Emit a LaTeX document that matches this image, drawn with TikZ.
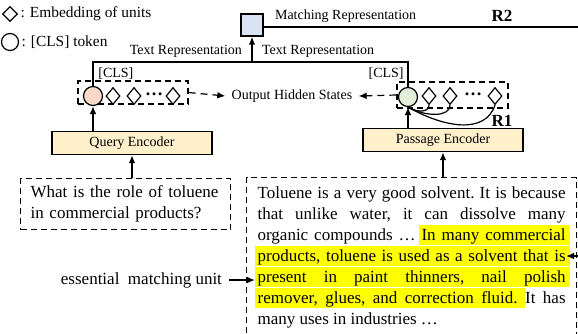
\documentclass[tikz,border=0pt]{standalone}
\usepackage{fontspec}
\setmainfont{Liberation Serif}
\usetikzlibrary{shapes.geometric, arrows.meta, positioning, fit}

\definecolor{matchblue}{HTML}{DAE3F3}
\definecolor{qcls}{HTML}{F8D9C8}
\definecolor{pcls}{HTML}{E2EFDA}
\definecolor{encfill}{HTML}{FFF0CC}
\definecolor{hlyellow}{HTML}{FFFF00}

\tikzset{
  unit/.style={diamond, draw, line width=0.6pt, inner sep=0pt, minimum width=7pt, minimum height=8.5pt},
  clsnode/.style={circle, draw, line width=0.6pt, inner sep=0pt, minimum size=9.5pt},
  dashbox/.style={draw, dash pattern=on 3pt off 2pt, line width=0.6pt},
  encoder/.style={draw, line width=0.7pt, fill=encfill, minimum width=80pt, minimum height=11.5pt, inner sep=0pt},
  link/.style={line width=0.8pt},
  arr/.style={link, -{Latex[length=4pt,width=3.4pt]}},
  dasharr/.style={line width=0.6pt, dash pattern=on 3.5pt off 2.5pt, -{Latex[length=4pt,width=3.4pt]}},
  rel/.style={font=\bfseries\fontsize{8.5}{9}\selectfont},
  body/.style={font=\fontsize{8.5}{10.5}\selectfont\frenchspacing},
  legend/.style={anchor=west, inner sep=1pt, font=\fontsize{7.7}{9}\selectfont},
  dots/.style={font=\bfseries\fontsize{9}{9}\selectfont, inner sep=0pt},
}

\begin{document}
\begin{tikzpicture}[x=0.5pt, y=-0.5pt, font=\fontsize{7}{8.5}\selectfont]
\useasboundingbox (0,0) rectangle (578,333);
\clip (0,0) rectangle (578,333);

% legend
\node[unit, minimum width=7.5pt, minimum height=7.5pt] (legunit) at (10,14) {};
\node[legend] (legunittxt) at (legunit.east) {: Embedding of units};
\node[clsnode, minimum size=8.5pt] (legcls) at (10,42) {};
\node[legend] (legclstxt) at (legcls.east) {: [CLS] token};

% matching representation (R2)
\node[draw, line width=0.7pt, fill=matchblue, minimum size=11pt, inner sep=0pt] (match) at (252,25) {};
\node[anchor=west] (matchtxt) at (268,16) {Matching Representation};
\node[rel] (rtwo) at (502,16) {R2};
\coordinate (r2end) at (578,27);
\draw[line width=1.2pt] (match.east |- r2end) -- (r2end);

% text representations
\coordinate (join) at (252,62);
\node[anchor=east] (qrep) at (249,51) {Text Representation};
\node[anchor=west] (prep) at (255,51) {Text Representation};

% query side
\node[dashbox, fit={(78,81) (188,104)}, inner sep=0pt] (lbox) {};
\node[clsnode, fill=qcls] (lcls) at (93,96) {};
\foreach \n/\x in {q1/113, q2/134, q3/173}
  \node[unit] (\n) at (\x,96) {};
\node[dots] (qdots) at (154,94) {…};
\node[anchor=west, inner sep=1pt] (lclstxt) at (96,74) {[CLS]};
\node[encoder] (qenc) at (132,143) {Query Encoder};
\node[dashbox, body, anchor=north west, text width=95pt, align=left, minimum height=25.5pt, inner xsep=5pt] (qtxt) at (20,178) {What is the role of toluene\\in commercial products?};

% output hidden states
\node[inner xsep=3pt] (out) at (292,96) {Output Hidden States};

% passage side
\node[dashbox, fit={(397,82) (508,108)}, inner sep=0pt] (rbox) {};
\node[clsnode, fill=pcls] (rcls) at (408,97) {};
\foreach \n/\x in {p1/429, p2/450, p3/495}
  \node[unit] (\n) at (\x,96) {};
\node[dots] (pdots) at (473,94) {…};
\node[anchor=east, inner sep=1pt] (rclstxt) at (406,74) {[CLS]};
\node[encoder] (penc) at (443,140) {Passage Encoder};

% highlighted matching unit
\foreach \y/\xa/\xb in {240/419/570, 261/255/570, 282/255/570, 303/255/525}
  \fill[hlyellow] (\xa,\y-15) rectangle (\xb,\y+5);
\node[dashbox, body, anchor=north west, text width=154pt, align=justify, inner xsep=5.5pt, inner ysep=4.7pt] (ptxt) at (246,177) {Toluene is a very good solvent. It is because\linebreak that unlike water, it can dissolve many\linebreak organic compounds … In many commercial\linebreak products, toluene is used as a solvent that is\linebreak present in paint thinners, nail polish\linebreak remover, glues, and correction fluid. It has\linebreak many uses in industries …};

% connectors
\draw[link] (lcls.north) |- (join) -| (rcls.north);
\draw[arr] (join) -- (match.south);
\draw[arr] (qenc.north -| lcls) -- (lcls.south);
\draw[arr] (penc.north -| rcls) -- (rcls.south);
\draw[arr] (qtxt.north -| qenc) -- (qenc.south);
\draw[arr] (ptxt.north -| penc) -- (penc.south);
\draw[dasharr] (lbox.east) -- (out.west);
\draw[dasharr] (rbox.west) -- (out.east);

% R1
\draw[line width=0.6pt] (p1.south) .. controls +(0,7) and +(10,6) .. (rcls.south);
\draw[line width=0.6pt] (p2.south) .. controls +(0,12) and +(18,10) .. (rcls.south);
\draw[line width=0.6pt] (p3.south) .. controls +(-10,30) and +(35,20) .. (rcls.south);
\node[rel] (rone) at (502,121) {R1};

% essential matching unit
\node[body, anchor=east] (esstxt) at (229,280) {essential\ \ matching unit};
\coordinate (essL) at (255,280);
\draw[arr] (esstxt.east) -- (essL);
\coordinate (r2in) at (578,256);
\coordinate (essR) at (566,256);
\draw[arr] (r2in) -- (essR);
\end{tikzpicture}
\end{document}
